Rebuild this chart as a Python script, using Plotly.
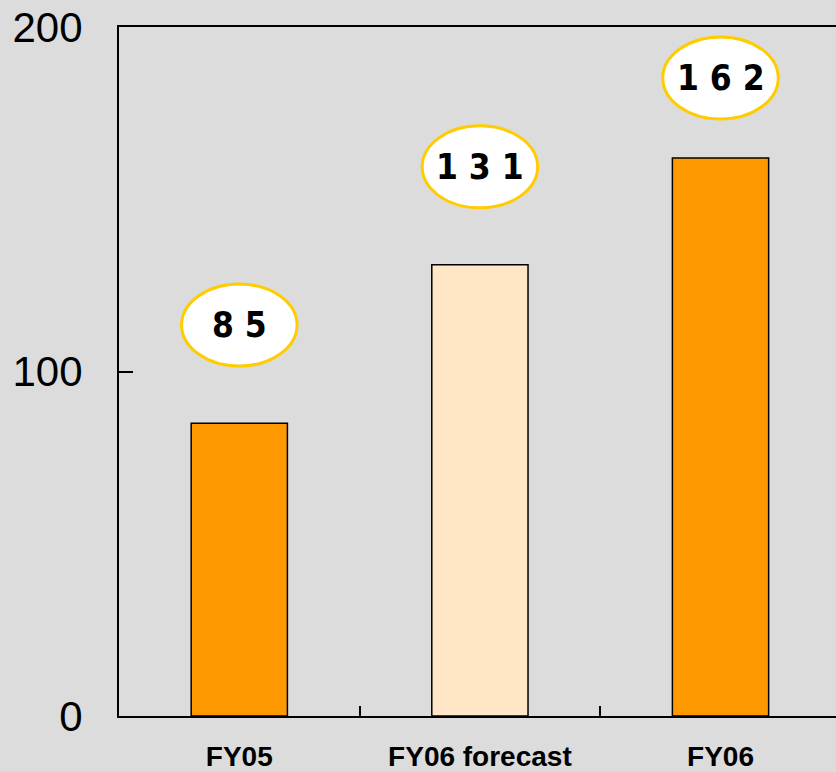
import plotly.graph_objects as go

categories = ["FY05", "FY06 forecast", "FY06"]
values = [85, 131, 162]
label_texts = ["8 5", "1 3 1", "1 6 2"]
y_ticks = [0, 100, 200]

# layout constants (label bubble offset above bar, in data units)
bubble_offsets = [28.5, 28.4, 23.2]
bubble_half_w = 0.24
bubble_half_h = 11.9

orange = "#FF9900"
fig = go.Figure()
fig.add_trace(go.Bar(
    x=categories, y=values, width=0.4,
    marker=dict(
        color=[orange, "#FFE6C6", orange],
        line=dict(color="black", width=1.5),
    ),
    hoverinfo="skip",
))

for i, (v, t) in enumerate(zip(values, label_texts)):
    cy = v + bubble_offsets[i]
    fig.add_shape(type="circle", xref="x", yref="y",
                  x0=i - bubble_half_w, x1=i + bubble_half_w,
                  y0=cy - bubble_half_h, y1=cy + bubble_half_h,
                  fillcolor="white", line=dict(color="#FFCC00", width=3), layer="above")
    fig.add_annotation(x=i, y=cy, xref="x", yref="y", text=t, showarrow=False,
                       font=dict(family="Liberation Sans Narrow, DejaVu Sans Condensed",
                                 size=35, color="black", weight="bold"))

fig.update_layout(
    width=836, height=772,
    margin=dict(l=119, r=0, t=27, b=56),
    paper_bgcolor="#DCDCDC", plot_bgcolor="#DCDCDC",
    showlegend=False, bargap=0.6,
)
fig.update_xaxes(
    type="category", range=[-0.5, 2.48],
    showline=True, linecolor="black", linewidth=2, mirror=True,
    ticks="inside", ticklen=10, tickwidth=1.5, tickcolor="black", tickson="boundaries",
    showgrid=False, ticklabelstandoff=14,
    tickfont=dict(family="Liberation Sans, Arial", size=28, color="black", weight="bold"),
)
fig.update_yaxes(
    range=[0, 200], tickvals=y_ticks, showline=True, linecolor="black", linewidth=2,
    ticks="inside", ticklen=14, tickwidth=1.5, tickcolor="black",
    showgrid=False, zeroline=False, ticklabelstandoff=26,
    tickfont=dict(family="Liberation Sans, Arial", size=42, color="black"),
)
fig.write_html("out.html")
